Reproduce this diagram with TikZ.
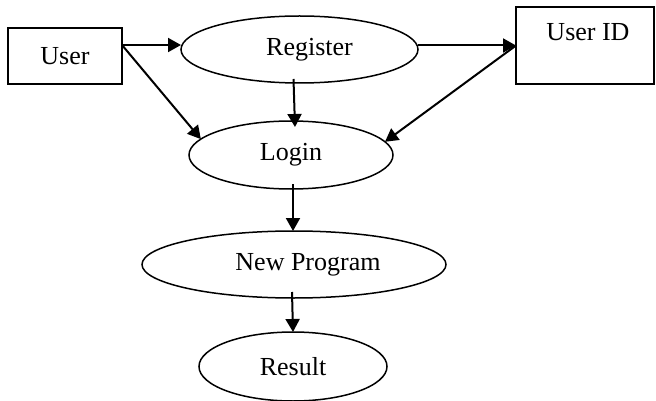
\documentclass[tikz,border=0pt]{standalone}
\usepackage{fontspec}
\setmainfont{Liberation Serif}
\usetikzlibrary{shapes.geometric,arrows.meta}

\begin{document}
\begin{tikzpicture}[x=1pt,y=-1pt,
  box/.style={draw,line width=1.5pt,inner sep=0pt,outer sep=0pt},
  oval/.style={draw,ellipse,line width=1.5pt,inner sep=0pt,outer sep=0pt},
  flow/.style={line width=2pt,-{Triangle[length=13pt,width=14pt]}}]
\fontsize{26}{30}\selectfont
\useasboundingbox (0,0) rectangle (656,401);

\node[box,minimum width=114pt,minimum height=56pt] (user) at (65,56) {User};
\node[box,minimum width=138pt,minimum height=77pt,
  label={[anchor=north,yshift=-8pt,xshift=3pt]north:User ID}] (uid) at (585,45.5) {};

\node[oval,minimum width=237pt,minimum height=67pt] (reg) at (299.5,49.5) {\hspace{20pt}\raisebox{-3pt}{Register}};
\node[oval,minimum width=204pt,minimum height=68pt] (login) at (291,155) {\raisebox{-2pt}{Login}};
\node[oval,minimum width=304pt,minimum height=67pt] (prog) at (294,264.5) {\hspace{28pt}New Program};
\node[oval,minimum width=188pt,minimum height=69pt] (res) at (293,366.5) {Result};

% free ends of the arrows that leave the boxes
\coordinate (uout) at ([yshift=11pt]user.east);
\coordinate (regdown) at ([xshift=-6pt,yshift=4pt]reg.south);
\coordinate (logdown) at ([xshift=2pt,yshift=5pt]login.south);

\draw[flow] (uout) -- (reg.west |- uout);
\draw[flow] (uout) -- (login.170);
\draw[flow] (regdown) -- ([xshift=4pt,yshift=-6pt]login.north);
\draw[flow] (reg.east |- uid.west) -- (uid.west);
\draw[flow] (uid.west) -- (login.8);
\draw[flow] (logdown) -- (prog.north -| logdown);
\draw[flow] ([xshift=-2pt,yshift=6pt]prog.south) -- (res.north);

\end{tikzpicture}
\end{document}
